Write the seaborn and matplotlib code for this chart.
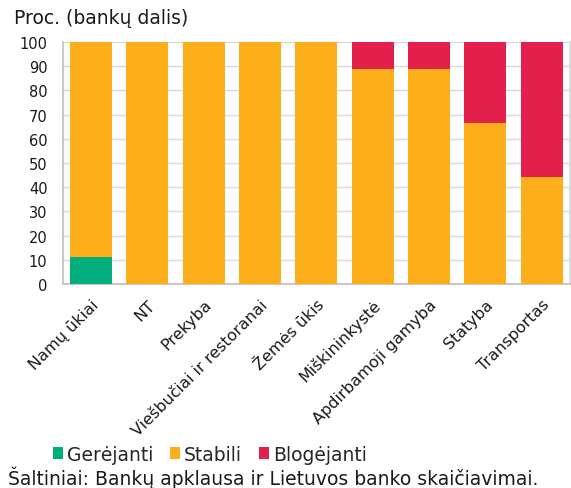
import numpy as np
import pandas as pd
import seaborn as sns
import matplotlib.pyplot as plt
from matplotlib.patches import Patch

# Data
sectors = ["Namų ūkiai", "NT", "Prekyba", "Viešbučiai ir restoranai", "Žemės ūkis",
           "Miškininkystė", "Apdirbamoji gamyba", "Statyba", "Transportas"]
gerejanti = [11.1, 0, 0, 0, 0, 0, 0, 0, 0]
stabili = [88.9, 100, 100, 100, 100, 88.9, 88.9, 66.7, 44.4]
blogejanti = [0, 0, 0, 0, 0, 11.1, 11.1, 33.3, 55.6]

series_names = ["Gerėjanti", "Stabili", "Blogėjanti"]
colors = ["#00AE7B", "#FCAF1B", "#E31F4B"]

sns.set_style("white")
plt.rcParams['font.family'] = ['DejaVu Sans']

df = pd.DataFrame({"sector": sectors, "g": gerejanti, "s": stabili, "b": blogejanti})
# cumulative heights for layered (stacked) bars
df["top_b"] = df["g"] + df["s"] + df["b"]
df["top_s"] = df["g"] + df["s"]
df["top_g"] = df["g"]

fig = plt.figure(figsize=(5.71, 4.89), dpi=100)
ax = fig.add_axes([0.110, 0.417, 0.888, 0.495])

for col, c in zip(["top_b", "top_s", "top_g"], colors[::-1]):
    sns.barplot(data=df, x="sector", y=col, color=c, width=0.75,
                saturation=1, ax=ax, linewidth=0, zorder=3)

ax.set_ylim(0, 100)
ax.set_xlim(-0.5, len(sectors) - 0.5)
ax.set_yticks(range(0, 101, 10))
ax.tick_params(axis='both', length=0, colors='#1a1a1a')
ax.tick_params(axis='y', pad=11, labelsize=10.5)
ax.tick_params(axis='x', labelsize=11.5, pad=9)
ax.set_xticks(range(len(sectors)))
ax.set_xticklabels(sectors, rotation=45, ha='right', va='top', rotation_mode='anchor')
ax.set_xlabel("")
ax.set_ylabel("")
ax.yaxis.grid(True, color='#d9d9d9', linewidth=1, zorder=0)
ax.set_axisbelow(True)
for side in ["left", "bottom", "right"]:
    ax.spines[side].set_color('#bfbfbf')
    ax.spines[side].set_linewidth(1.2)
ax.spines["right"].set_color('#d9d9d9')
ax.spines["top"].set_visible(False)

fig.text(0.025, 0.963, "Proc. (bankų dalis)", fontsize=13.5, va='center', ha='left', color='#1a1a1a')

handles = [Patch(facecolor=c, edgecolor='none') for c in colors]
fig.legend(handles, series_names, loc='center left', bbox_to_anchor=(0.092, 0.0695),
           ncol=3, frameon=False, fontsize=13.5, handlelength=0.55, handleheight=0.55,
           handletextpad=0.2, columnspacing=0.9, borderpad=0, borderaxespad=0)

fig.text(0.014, 0.0225, "Šaltiniai: Bankų apklausa ir Lietuvos banko skaičiavimai.",
         fontsize=13.5, va='center', ha='left', color='#1a1a1a')

fig.savefig("out.png", dpi=100)
